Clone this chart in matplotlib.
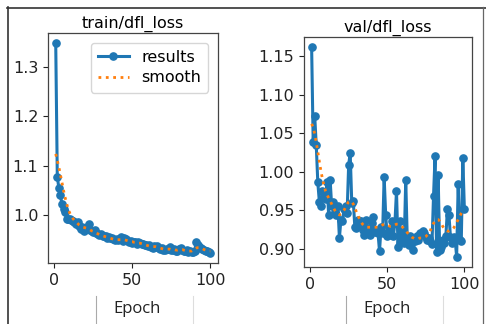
import matplotlib
matplotlib.use("Agg")
import matplotlib.pyplot as plt
from matplotlib.lines import Line2D

epochs = list(range(1, 101))

train_dfl = [
    1.348, 1.078, 1.055, 1.040, 1.022, 1.012, 1.006, 0.993, 0.992, 0.993,
    0.990, 0.988, 0.986, 0.982, 0.985, 0.978, 0.972, 0.976, 0.968, 0.972,
    0.975, 0.982, 0.970, 0.968, 0.966, 0.970, 0.963, 0.962, 0.960, 0.962,
    0.958, 0.957, 0.958, 0.954, 0.955, 0.953, 0.954, 0.951, 0.950, 0.952,
    0.949, 0.951, 0.955, 0.948, 0.954, 0.951, 0.947, 0.945, 0.948, 0.944,
    0.945, 0.946, 0.942, 0.945, 0.943, 0.941, 0.942, 0.940, 0.939, 0.937,
    0.939, 0.936, 0.934, 0.937, 0.935, 0.938, 0.934, 0.932, 0.933, 0.930,
    0.929, 0.931, 0.932, 0.935, 0.930, 0.929, 0.931, 0.928, 0.927, 0.931,
    0.934, 0.930, 0.928, 0.927, 0.929, 0.926, 0.928, 0.926, 0.925, 0.927,
    0.946, 0.940, 0.935, 0.933, 0.931, 0.930, 0.928, 0.927, 0.925, 0.924,
]

train_smooth = [
    1.124, 1.111, 1.097, 1.082, 1.066, 1.050, 1.036, 1.023, 1.012, 1.004,
    0.998, 0.993, 0.989, 0.986, 0.983, 0.980, 0.978, 0.976, 0.975, 0.974,
    0.973, 0.972, 0.970, 0.968, 0.967, 0.965, 0.963, 0.962, 0.960, 0.959,
    0.958, 0.957, 0.956, 0.955, 0.954, 0.953, 0.952, 0.951, 0.951, 0.950,
    0.950, 0.950, 0.950, 0.950, 0.950, 0.949, 0.948, 0.947, 0.946, 0.946,
    0.945, 0.945, 0.944, 0.943, 0.943, 0.942, 0.941, 0.940, 0.939, 0.938,
    0.937, 0.937, 0.936, 0.936, 0.936, 0.935, 0.934, 0.933, 0.932, 0.931,
    0.931, 0.931, 0.931, 0.931, 0.930, 0.930, 0.930, 0.929, 0.929, 0.930,
    0.930, 0.930, 0.929, 0.928, 0.928, 0.927, 0.927, 0.927, 0.929, 0.931,
    0.933, 0.934, 0.934, 0.933, 0.932, 0.930, 0.929, 0.928, 0.927, 0.927,
]

val_dfl = [
    1.161, 1.038, 1.072, 1.034, 0.986, 0.961, 0.955, 0.975, 0.972, 0.965,
    0.987, 0.944, 0.989, 0.955, 0.961, 0.948, 0.944, 0.956, 0.914, 0.938,
    0.936, 0.951, 0.955, 0.947, 1.009, 1.024, 0.960, 0.962, 0.928, 0.927,
    0.938, 0.931, 0.936, 0.925, 0.918, 0.938, 0.927, 0.925, 0.918, 0.934,
    0.941, 0.922, 0.925, 0.921, 0.897, 0.928, 0.920, 0.993, 0.944, 0.916,
    0.918, 0.925, 0.936, 0.917, 0.934, 0.975, 0.903, 0.936, 0.910, 0.925,
    0.908, 0.989, 0.912, 0.905, 0.916, 0.912, 0.899, 0.910, 0.916, 0.912,
    0.921, 0.918, 0.923, 0.920, 0.915, 0.912, 0.914, 0.910, 0.906, 0.968,
    1.020, 0.896, 0.996, 0.899, 0.903, 0.912, 0.908, 0.916, 0.951, 0.944,
    0.915, 0.908, 0.915, 0.912, 0.890, 0.984, 0.911, 0.910, 1.018, 0.952,
]

val_smooth = [
    1.062, 1.057, 1.049, 1.038, 1.026, 1.013, 1.001, 0.991, 0.982, 0.975,
    0.970, 0.966, 0.962, 0.958, 0.954, 0.950, 0.947, 0.945, 0.944, 0.945,
    0.947, 0.950, 0.954, 0.958, 0.961, 0.962, 0.961, 0.958, 0.953, 0.948,
    0.943, 0.939, 0.935, 0.932, 0.930, 0.929, 0.928, 0.928, 0.928, 0.928,
    0.928, 0.928, 0.928, 0.928, 0.929, 0.930, 0.931, 0.932, 0.932, 0.931,
    0.930, 0.929, 0.929, 0.930, 0.931, 0.932, 0.932, 0.931, 0.930, 0.928,
    0.926, 0.924, 0.921, 0.919, 0.917, 0.915, 0.914, 0.913, 0.913, 0.913,
    0.914, 0.914, 0.914, 0.915, 0.916, 0.918, 0.920, 0.924, 0.929, 0.933,
    0.936, 0.938, 0.938, 0.936, 0.933, 0.929, 0.926, 0.924, 0.923, 0.923,
    0.924, 0.925, 0.927, 0.930, 0.934, 0.938, 0.942, 0.946, 0.949, 0.951,
]

titles = ["train/dfl_loss", "val/dfl_loss"]
xticks = [0, 50, 100]
xlabel = "Epoch"

W, H = 486, 324
fig = plt.figure(figsize=(W / 100, H / 100), dpi=100)
plt.rcParams['font.family'] = ['DejaVu Sans']

def px_axes(x0, y0, x1, y1):
    return fig.add_axes([x0 / W, 1 - y1 / H, (x1 - x0) / W, (y1 - y0) / H])

ax1 = px_axes(48, 33, 218, 263)
ax2 = px_axes(304, 37, 472, 267)

blue = "#1f77b4"
orange = "#ff7f0e"
for ax, y, ys, t in [(ax1, train_dfl, train_smooth, titles[0]),
                     (ax2, val_dfl, val_smooth, titles[1])]:
    ax.plot(epochs, y, marker='o', color=blue, linewidth=2.2, markersize=5.2,
            label="results")
    ax.plot(epochs, ys, ':', color=orange, linewidth=2.0, label="smooth")
    ax.set_title(t, fontsize=11.5, pad=4)
    ax.set_xticks(xticks)
    ax.tick_params(labelsize=11.5, length=3.5, width=0.8, colors="#222222")
    for s in ax.spines.values():
        s.set_color("#444444")
        s.set_linewidth(0.9)

ax2.set_yticks([0.90, 0.95, 1.00, 1.05, 1.10, 1.15])
ax1.set_yticks([1.0, 1.1, 1.2, 1.3])

ax1.legend(loc="upper right", fontsize=11.5, handlelength=1.9,
           borderpad=0.45, labelspacing=0.35, handletextpad=0.8,
           borderaxespad=0.6)

# Epoch labels
fig.text(137 / W, 1 - 309 / H, xlabel, ha="center", va="center",
         fontsize=12, family=["Open Sans", "DejaVu Sans"], color="#222222")
fig.text(387 / W, 1 - 309 / H, xlabel, ha="center", va="center",
         fontsize=12, family=["Open Sans", "DejaVu Sans"], color="#222222")

# frame and separator lines
def fline(xs, ys, color, lw):
    fig.add_artist(Line2D([x / W for x in xs], [1 - v / H for v in ys],
                          color=color, linewidth=lw, transform=fig.transFigure))

fline([7, 486], [7.5, 7.5], "#333333", 1.2)
fline([7.5, 7.5], [7, 324], "#333333", 1.2)
fline([483, 483], [7, 324], "#666666", 0.9)
fline([96, 96], [296, 324], "#aaaaaa", 0.8)
fline([193, 193], [296, 324], "#dddddd", 0.8)
fline([346, 346], [296, 324], "#aaaaaa", 0.8)
fline([443, 443], [296, 324], "#dddddd", 0.8)

fig.savefig("out.png", dpi=100)
